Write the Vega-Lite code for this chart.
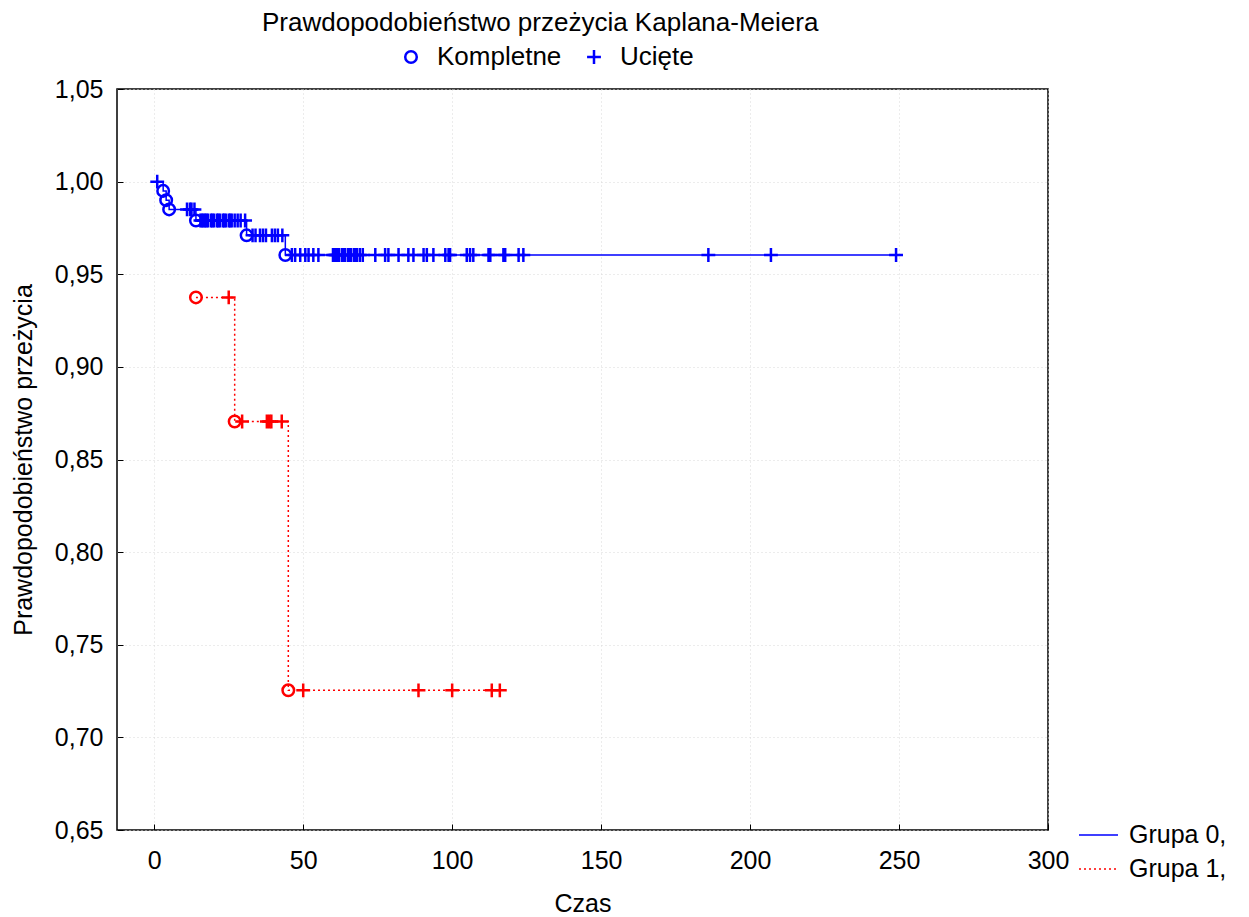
{
  "$schema": "https://vega.github.io/schema/vega-lite/v6.json",
  "width": 931,
  "height": 741,
  "autosize": {"type": "none"},
  "padding": {"left": 117, "top": 89, "right": 201, "bottom": 87},
  "background": "white",
  "title": {
    "text": "Prawdopodobieństwo przeżycia Kaplana-Meiera",
    "anchor": "start",
    "frame": "group",
    "dx": 145,
    "offset": -13,
    "baseline": "alphabetic",
    "fontSize": 26,
    "font": "Liberation Sans",
    "fontWeight": "normal",
    "color": "black"
  },
  "data": {
    "values": [
      {"grupa": "Grupa 0,", "typ": "Ucięte", "t": 1, "s": 1.0},
      {"grupa": "Grupa 0,", "typ": "Kompletne", "t": 3, "s": 0.995},
      {"grupa": "Grupa 0,", "typ": "Kompletne", "t": 4, "s": 0.990},
      {"grupa": "Grupa 0,", "typ": "Kompletne", "t": 5, "s": 0.985},
      {"grupa": "Grupa 0,", "typ": "Ucięte", "t": 11, "s": 0.985},
      {"grupa": "Grupa 0,", "typ": "Ucięte", "t": 12, "s": 0.985},
      {"grupa": "Grupa 0,", "typ": "Ucięte", "t": 12.5, "s": 0.985},
      {"grupa": "Grupa 0,", "typ": "Ucięte", "t": 13.5, "s": 0.985},
      {"grupa": "Grupa 0,", "typ": "Kompletne", "t": 14, "s": 0.979},
      {"grupa": "Grupa 0,", "typ": "Ucięte", "t": 15.5, "s": 0.979},
      {"grupa": "Grupa 0,", "typ": "Ucięte", "t": 16, "s": 0.979},
      {"grupa": "Grupa 0,", "typ": "Ucięte", "t": 16.5, "s": 0.979},
      {"grupa": "Grupa 0,", "typ": "Ucięte", "t": 17, "s": 0.979},
      {"grupa": "Grupa 0,", "typ": "Ucięte", "t": 17.5, "s": 0.979},
      {"grupa": "Grupa 0,", "typ": "Ucięte", "t": 18, "s": 0.979},
      {"grupa": "Grupa 0,", "typ": "Ucięte", "t": 19, "s": 0.979},
      {"grupa": "Grupa 0,", "typ": "Ucięte", "t": 19.5, "s": 0.979},
      {"grupa": "Grupa 0,", "typ": "Ucięte", "t": 20, "s": 0.979},
      {"grupa": "Grupa 0,", "typ": "Ucięte", "t": 21, "s": 0.979},
      {"grupa": "Grupa 0,", "typ": "Ucięte", "t": 21.5, "s": 0.979},
      {"grupa": "Grupa 0,", "typ": "Ucięte", "t": 22, "s": 0.979},
      {"grupa": "Grupa 0,", "typ": "Ucięte", "t": 23, "s": 0.979},
      {"grupa": "Grupa 0,", "typ": "Ucięte", "t": 23.5, "s": 0.979},
      {"grupa": "Grupa 0,", "typ": "Ucięte", "t": 24, "s": 0.979},
      {"grupa": "Grupa 0,", "typ": "Ucięte", "t": 25, "s": 0.979},
      {"grupa": "Grupa 0,", "typ": "Ucięte", "t": 25.5, "s": 0.979},
      {"grupa": "Grupa 0,", "typ": "Ucięte", "t": 26, "s": 0.979},
      {"grupa": "Grupa 0,", "typ": "Ucięte", "t": 27, "s": 0.979},
      {"grupa": "Grupa 0,", "typ": "Ucięte", "t": 28, "s": 0.979},
      {"grupa": "Grupa 0,", "typ": "Ucięte", "t": 29, "s": 0.979},
      {"grupa": "Grupa 0,", "typ": "Ucięte", "t": 30.5, "s": 0.979},
      {"grupa": "Grupa 0,", "typ": "Kompletne", "t": 31, "s": 0.971},
      {"grupa": "Grupa 0,", "typ": "Ucięte", "t": 33, "s": 0.971},
      {"grupa": "Grupa 0,", "typ": "Ucięte", "t": 34, "s": 0.971},
      {"grupa": "Grupa 0,", "typ": "Ucięte", "t": 35.5, "s": 0.971},
      {"grupa": "Grupa 0,", "typ": "Ucięte", "t": 36.5, "s": 0.971},
      {"grupa": "Grupa 0,", "typ": "Ucięte", "t": 37.5, "s": 0.971},
      {"grupa": "Grupa 0,", "typ": "Ucięte", "t": 39.5, "s": 0.971},
      {"grupa": "Grupa 0,", "typ": "Ucięte", "t": 40.5, "s": 0.971},
      {"grupa": "Grupa 0,", "typ": "Ucięte", "t": 41.5, "s": 0.971},
      {"grupa": "Grupa 0,", "typ": "Ucięte", "t": 43, "s": 0.971},
      {"grupa": "Grupa 0,", "typ": "Kompletne", "t": 44, "s": 0.9604},
      {"grupa": "Grupa 0,", "typ": "Ucięte", "t": 46.2, "s": 0.9604},
      {"grupa": "Grupa 0,", "typ": "Ucięte", "t": 47.3, "s": 0.9604},
      {"grupa": "Grupa 0,", "typ": "Ucięte", "t": 49, "s": 0.9604},
      {"grupa": "Grupa 0,", "typ": "Ucięte", "t": 50.7, "s": 0.9604},
      {"grupa": "Grupa 0,", "typ": "Ucięte", "t": 51.8, "s": 0.9604},
      {"grupa": "Grupa 0,", "typ": "Ucięte", "t": 53.4, "s": 0.9604},
      {"grupa": "Grupa 0,", "typ": "Ucięte", "t": 55.1, "s": 0.9604},
      {"grupa": "Grupa 0,", "typ": "Ucięte", "t": 60, "s": 0.9604},
      {"grupa": "Grupa 0,", "typ": "Ucięte", "t": 60.5, "s": 0.9604},
      {"grupa": "Grupa 0,", "typ": "Ucięte", "t": 61, "s": 0.9604},
      {"grupa": "Grupa 0,", "typ": "Ucięte", "t": 61.5, "s": 0.9604},
      {"grupa": "Grupa 0,", "typ": "Ucięte", "t": 62, "s": 0.9604},
      {"grupa": "Grupa 0,", "typ": "Ucięte", "t": 63, "s": 0.9604},
      {"grupa": "Grupa 0,", "typ": "Ucięte", "t": 63.5, "s": 0.9604},
      {"grupa": "Grupa 0,", "typ": "Ucięte", "t": 64, "s": 0.9604},
      {"grupa": "Grupa 0,", "typ": "Ucięte", "t": 65, "s": 0.9604},
      {"grupa": "Grupa 0,", "typ": "Ucięte", "t": 65.5, "s": 0.9604},
      {"grupa": "Grupa 0,", "typ": "Ucięte", "t": 66, "s": 0.9604},
      {"grupa": "Grupa 0,", "typ": "Ucięte", "t": 67, "s": 0.9604},
      {"grupa": "Grupa 0,", "typ": "Ucięte", "t": 67.5, "s": 0.9604},
      {"grupa": "Grupa 0,", "typ": "Ucięte", "t": 68, "s": 0.9604},
      {"grupa": "Grupa 0,", "typ": "Ucięte", "t": 69, "s": 0.9604},
      {"grupa": "Grupa 0,", "typ": "Ucięte", "t": 70, "s": 0.9604},
      {"grupa": "Grupa 0,", "typ": "Ucięte", "t": 74.2, "s": 0.9604},
      {"grupa": "Grupa 0,", "typ": "Ucięte", "t": 77.5, "s": 0.9604},
      {"grupa": "Grupa 0,", "typ": "Ucięte", "t": 78.6, "s": 0.9604},
      {"grupa": "Grupa 0,", "typ": "Ucięte", "t": 82, "s": 0.9604},
      {"grupa": "Grupa 0,", "typ": "Ucięte", "t": 85.3, "s": 0.9604},
      {"grupa": "Grupa 0,", "typ": "Ucięte", "t": 87, "s": 0.9604},
      {"grupa": "Grupa 0,", "typ": "Ucięte", "t": 90.4, "s": 0.9604},
      {"grupa": "Grupa 0,", "typ": "Ucięte", "t": 91.5, "s": 0.9604},
      {"grupa": "Grupa 0,", "typ": "Ucięte", "t": 93.7, "s": 0.9604},
      {"grupa": "Grupa 0,", "typ": "Ucięte", "t": 97.7, "s": 0.9604},
      {"grupa": "Grupa 0,", "typ": "Ucięte", "t": 98.8, "s": 0.9604},
      {"grupa": "Grupa 0,", "typ": "Ucięte", "t": 99.3, "s": 0.9604},
      {"grupa": "Grupa 0,", "typ": "Ucięte", "t": 104.9, "s": 0.9604},
      {"grupa": "Grupa 0,", "typ": "Ucięte", "t": 106, "s": 0.9604},
      {"grupa": "Grupa 0,", "typ": "Ucięte", "t": 107.1, "s": 0.9604},
      {"grupa": "Grupa 0,", "typ": "Ucięte", "t": 112.2, "s": 0.9604},
      {"grupa": "Grupa 0,", "typ": "Ucięte", "t": 112.8, "s": 0.9604},
      {"grupa": "Grupa 0,", "typ": "Ucięte", "t": 117.2, "s": 0.9604},
      {"grupa": "Grupa 0,", "typ": "Ucięte", "t": 117.8, "s": 0.9604},
      {"grupa": "Grupa 0,", "typ": "Ucięte", "t": 122.3, "s": 0.9604},
      {"grupa": "Grupa 0,", "typ": "Ucięte", "t": 123.9, "s": 0.9604},
      {"grupa": "Grupa 0,", "typ": "Ucięte", "t": 186, "s": 0.9604},
      {"grupa": "Grupa 0,", "typ": "Ucięte", "t": 207, "s": 0.9604},
      {"grupa": "Grupa 0,", "typ": "Ucięte", "t": 249, "s": 0.9604},
      {"grupa": "Grupa 1,", "typ": "Kompletne", "t": 14, "s": 0.9375},
      {"grupa": "Grupa 1,", "typ": "Ucięte", "t": 25, "s": 0.9375},
      {"grupa": "Grupa 1,", "typ": "Kompletne", "t": 27, "s": 0.8705},
      {"grupa": "Grupa 1,", "typ": "Ucięte", "t": 29.5, "s": 0.8705},
      {"grupa": "Grupa 1,", "typ": "Ucięte", "t": 37.8, "s": 0.8705},
      {"grupa": "Grupa 1,", "typ": "Ucięte", "t": 38.6, "s": 0.8705},
      {"grupa": "Grupa 1,", "typ": "Ucięte", "t": 39.3, "s": 0.8705},
      {"grupa": "Grupa 1,", "typ": "Ucięte", "t": 42.8, "s": 0.8705},
      {"grupa": "Grupa 1,", "typ": "Kompletne", "t": 45, "s": 0.7254},
      {"grupa": "Grupa 1,", "typ": "Ucięte", "t": 50, "s": 0.7254},
      {"grupa": "Grupa 1,", "typ": "Ucięte", "t": 88.7, "s": 0.7254},
      {"grupa": "Grupa 1,", "typ": "Ucięte", "t": 100, "s": 0.7254},
      {"grupa": "Grupa 1,", "typ": "Ucięte", "t": 113.3, "s": 0.7254},
      {"grupa": "Grupa 1,", "typ": "Ucięte", "t": 116, "s": 0.7254}
    ]
  },
  "encoding": {
    "x": {
      "field": "t",
      "type": "quantitative",
      "scale": {"domain": [-12.5, 300], "nice": false, "zero": false},
      "axis": {
        "title": "Czas",
        "values": [0, 50, 100, 150, 200, 250, 300],
        "format": "d",
        "labelFlush": false,
        "labelOverlap": false,
        "labelPadding": 24,
        "titlePadding": 18
      }
    },
    "y": {
      "field": "s",
      "type": "quantitative",
      "scale": {"domain": [0.65, 1.05], "nice": false, "zero": false},
      "axis": {
        "title": "Prawdopodobieństwo przeżycia",
        "values": [0.65, 0.7, 0.75, 0.8, 0.85, 0.9, 0.95, 1.0, 1.05],
        "format": ".2f",
        "labelFlush": false,
        "labelOverlap": false,
        "labelPadding": 20,
        "titlePadding": 18
      }
    }
  },
  "layer": [
    {
      "mark": {"type": "line", "interpolate": "step-after", "strokeWidth": 1.5},
      "encoding": {
        "order": {"field": "t", "type": "quantitative"},
        "color": {
          "field": "grupa",
          "type": "nominal",
          "scale": {"domain": ["Grupa 0,", "Grupa 1,"], "range": ["#0000ff", "#ff0000"]},
          "legend": {
            "title": null,
            "orient": "none",
            "legendX": 961,
            "legendY": 725.5,
            "direction": "vertical",
            "symbolType": "stroke",
            "symbolSize": 1521,
            "symbolStrokeWidth": 1.5,
            "labelFontSize": 25,
            "labelOffset": 10,
            "rowPadding": -20,
            "padding": 0
          }
        },
        "strokeDash": {
          "field": "grupa",
          "type": "nominal",
          "scale": {"domain": ["Grupa 0,", "Grupa 1,"], "range": [[1, 0], [2, 3]]},
          "legend": {
            "title": null,
            "orient": "none",
            "legendX": 961,
            "legendY": 725.5,
            "direction": "vertical",
            "symbolType": "stroke",
            "symbolSize": 1521,
            "symbolStrokeWidth": 1.5,
            "labelFontSize": 25,
            "labelOffset": 10,
            "rowPadding": -20,
            "padding": 0
          }
        }
      }
    },
    {
      "mark": {"type": "point", "filled": false, "strokeWidth": 2.5, "size": 133, "opacity": 1, "color": "#0000ff"},
      "encoding": {
        "stroke": {
          "field": "grupa",
          "type": "nominal",
          "scale": {"domain": ["Grupa 0,", "Grupa 1,"], "range": ["#0000ff", "#ff0000"]},
          "legend": null
        },
        "shape": {
          "field": "typ",
          "type": "nominal",
          "scale": {"domain": ["Kompletne", "Ucięte"], "range": ["circle", "M-1.2,0L1.2,0M0,-1.2L0,1.2"]},
          "legend": {
            "title": null,
            "orient": "none",
            "legendX": 281,
            "legendY": -45,
            "direction": "horizontal",
            "symbolStrokeColor": "#0000ff",
            "symbolStrokeWidth": 2.5,
            "symbolSize": 133,
            "symbolFillColor": "transparent",
            "labelFontSize": 26,
            "labelOffset": 13,
            "columnPadding": 19,
            "padding": 0
          }
        }
      }
    }
  ],
  "config": {
    "font": "Liberation Sans",
    "locale": {"number": {"decimal": ",", "thousands": " ", "grouping": [3], "currency": ["", " zł"]}},
    "view": {"stroke": "#000000", "strokeWidth": 1.5},
    "axis": {
      "domain": false,
      "tickColor": "#000000",
      "tickSize": -6,
      "tickWidth": 1,
      "labelColor": "#000000",
      "labelFontSize": 25,
      "labelFont": "Liberation Sans",
      "titleColor": "#000000",
      "titleFontSize": 25,
      "titleFont": "Liberation Sans",
      "titleFontWeight": "normal",
      "grid": true,
      "gridColor": "#d8d8d8",
      "gridDash": [1, 3],
      "gridWidth": 1
    },
    "legend": {
      "labelFont": "Liberation Sans",
      "labelColor": "#000000",
      "labelLimit": 0
    }
  }
}
